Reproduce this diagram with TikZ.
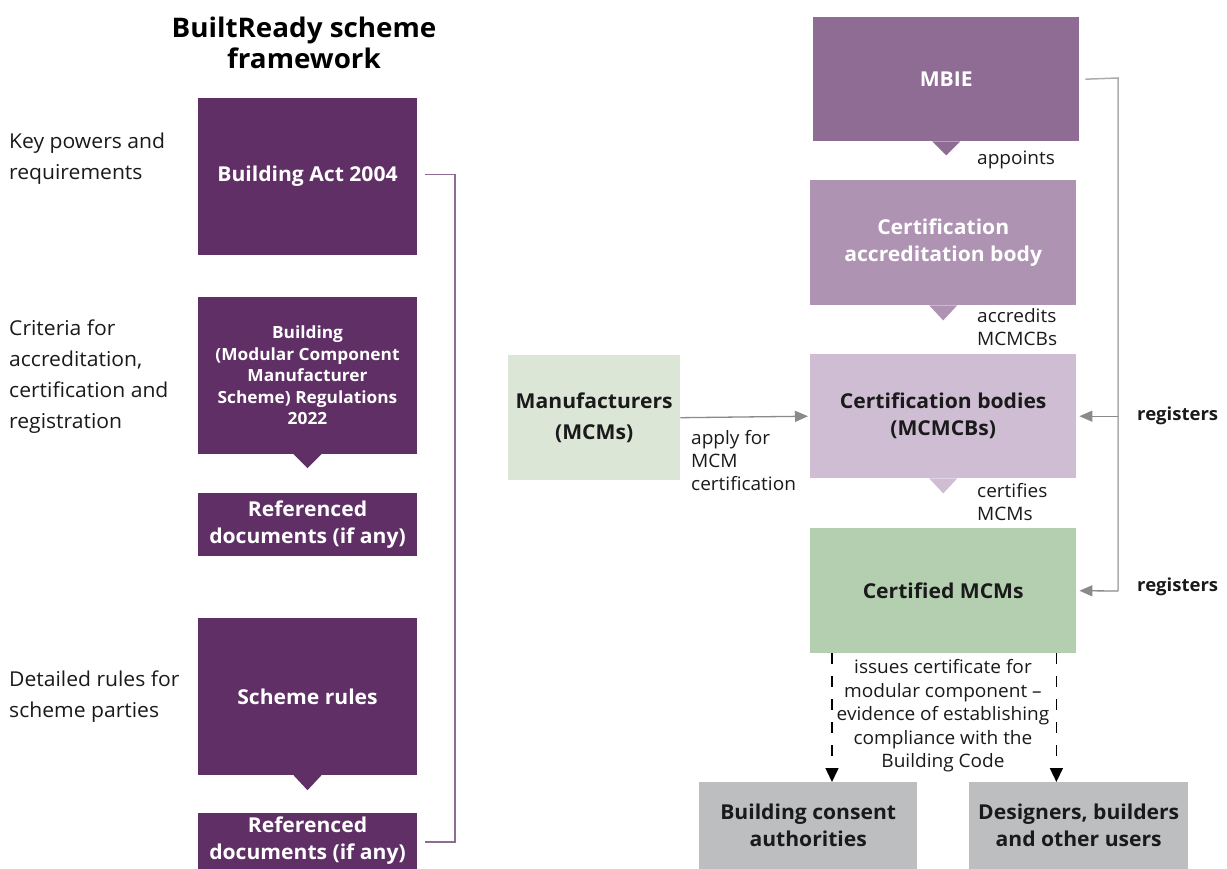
\documentclass[tikz,border=0pt]{standalone}
\usepackage{fontspec}
\setmainfont{Open Sans}[FakeStretch=1.03]
\usetikzlibrary{calc,arrows.meta}
\definecolor{dpurple}{HTML}{5F2F65}
\definecolor{mbiec}{HTML}{8F6C93}
\definecolor{cabc}{HTML}{AE93B3}
\definecolor{cbc}{HTML}{CFBDD4}
\definecolor{cmcmc}{HTML}{B3CFB0}
\definecolor{mfrc}{HTML}{DCE6D7}
\definecolor{grayb}{HTML}{BDBEC0}
\definecolor{brkc}{HTML}{8F6A93}
\definecolor{arrc}{HTML}{8A8A8A}
\definecolor{txt}{HTML}{1A1A1A}
\begin{document}
\begin{tikzpicture}[x=1pt,y=-1pt,
  box/.style={rectangle,inner sep=0pt,align=center,font=\fontsize{20.5}{27}\selectfont\bfseries},
  dbox/.style={box,fill=dpurple,text=white,minimum width=219pt},
  lab/.style={align=left,anchor=west,inner sep=0pt,text=txt,font=\fontsize{20.5}{31}\selectfont},
  clab/.style={align=left,anchor=west,inner sep=0pt,text=txt,font=\fontsize{18.5}{23}\selectfont},
  reg/.style={anchor=west,inner sep=0pt,text=txt,font=\fontsize{18}{23}\selectfont\bfseries},
  graytip/.style={-{Triangle[length=13pt,width=11pt]}},
  blacktip/.style={-{Triangle[length=14pt,width=13pt]}}
]
\useasboundingbox (0,0) rectangle (1227,869);
\fill[white] (0,0) rectangle (1227,869);

% title
\node[align=center,inner sep=0pt,font=\fontsize{27}{31}\selectfont\bfseries,text=black] (title) at (304,43) {BuiltReady scheme\\framework};

% left boxes
\node[dbox,minimum height=157pt] (act) at (307.5,176.5) {Building Act 2004};
\node[dbox,minimum height=157pt,font=\fontsize{16.8}{21.5}\selectfont\bfseries] (regs) at (307.5,375.5) {Building\\(Modular Component\\Manufacturer\\Scheme) Regulations\\2022};
\node[dbox,minimum height=63pt] (ref1) at (307.5,524.5) {Referenced\\documents (if any)};
\node[dbox,minimum height=157pt] (rules) at (307.5,696.5) {Scheme rules};
\node[dbox,minimum height=56pt] (ref2) at (307.5,841) {Referenced\\documents (if any)};
\fill[dpurple] ($(regs.south)+(-14,0)$) -- ($(regs.south)+(0,14)$) -- ($(regs.south)+(14,0)$) -- cycle;
\fill[dpurple] ($(rules.south)+(-14,0)$) -- ($(rules.south)+(0,15)$) -- ($(rules.south)+(14,0)$) -- cycle;

% bracket
\draw[brkc,line width=1.8pt] ($(act.east)+(8,-2)$) -- ++(30,0) |- ($(ref2.east)+(8,1)$);

% left labels
\node[lab] (l1) at (9,158.5) {Key powers and\\requirements};
\node[lab] (l2) at (9,376.5) {Criteria for\\accreditation,\\certification and\\registration};
\node[lab] (l3) at (9,696.5) {Detailed rules for\\scheme parties};

% right boxes
\node[box,fill=mbiec,text=white,minimum width=266pt,minimum height=124pt,anchor=north west] (mbie) at (813,17) {MBIE};
\node[box,fill=cabc,text=white,minimum width=266pt,minimum height=125pt,anchor=north west] (cab) at (810,180) {Certification\\accreditation body};
\node[box,fill=cbc,text=txt,minimum width=266pt,minimum height=124pt,anchor=north west] (cb) at (810,354) {Certification bodies\\(MCMCBs)};
\node[box,fill=cmcmc,text=txt,minimum width=266pt,minimum height=125pt,anchor=north west] (cmcm) at (810,528) {Certified MCMs};
\node[box,fill=mfrc,text=txt,minimum width=172pt,minimum height=125pt,anchor=north west,font=\fontsize{20.5}{31}\selectfont\bfseries] (mfr) at (508,355) {Manufacturers\\(MCMs)};
\node[box,fill=grayb,text=txt,minimum width=218pt,minimum height=87pt,anchor=north west] (bca) at (699,782) {Building consent\\authorities};
\node[box,fill=grayb,text=txt,minimum width=219pt,minimum height=87pt,anchor=north west] (dbo) at (969,782) {Designers, builders\\and other users};

% pointers
\fill[mbiec] ($(mbie.south)+(-14,0)$) -- ($(mbie.south)+(0,14)$) -- ($(mbie.south)+(14,0)$) -- cycle;
\fill[cabc] ($(cab.south)+(-14,0)$) -- ($(cab.south)+(0,15)$) -- ($(cab.south)+(14,0)$) -- cycle;
\fill[cbc] ($(cb.south)+(-14,0)$) -- ($(cb.south)+(0,15)$) -- ($(cb.south)+(14,0)$) -- cycle;

% connector labels
\node[clab] (t1) at (977,160) {appoints};
\node[clab] (t2) at (977,327.5) {accredits\\MCMCBs};
\node[clab] (t3) at (977,502) {certifies\\MCMs};
\node[clab] (t4) at (691,461) {apply for\\MCM\\certification};
\node[align=center,inner sep=0pt,text=txt,font=\fontsize{18.5}{23.5}\selectfont] (t5) at (943,716) {issues certificate for\\modular component –\\evidence of establishing\\compliance with the\\Building Code};

% manufacturers arrow
\draw[arrc,line width=1.3pt,graytip,shorten >=2pt] (mfr.east) -- (cb.west);

% registers bus
\coordinate (bt) at (1118,78);
\coordinate (bb) at (1118,591);
\draw[arrc!70,line width=1.5pt] ($(mbie.east)+(6,0)$) -- (bt) -- (bb);
\draw[arrc,line width=1.3pt,graytip,shorten >=3pt] (bb) -- (cmcm.east);
\draw[arrc,line width=1.3pt,graytip,shorten >=3pt] (bt |- cb.east) -- (cb.east);
\node[reg] (r1) at (1137,416) {registers};
\node[reg] (r2) at (1137,587) {registers};

% dashed arrows
\coordinate (d1) at ($(cmcm.south west)+(22,0)$);
\coordinate (d2) at ($(cmcm.south east)+(-20,0)$);
\draw[black,line width=1.5pt,dash pattern=on 11pt off 12pt,blacktip] (d1) -- (d1 |- bca.north);
\draw[black,line width=1.5pt,dash pattern=on 11pt off 12pt,blacktip] (d2) -- (d2 |- dbo.north);
\end{tikzpicture}
\end{document}
